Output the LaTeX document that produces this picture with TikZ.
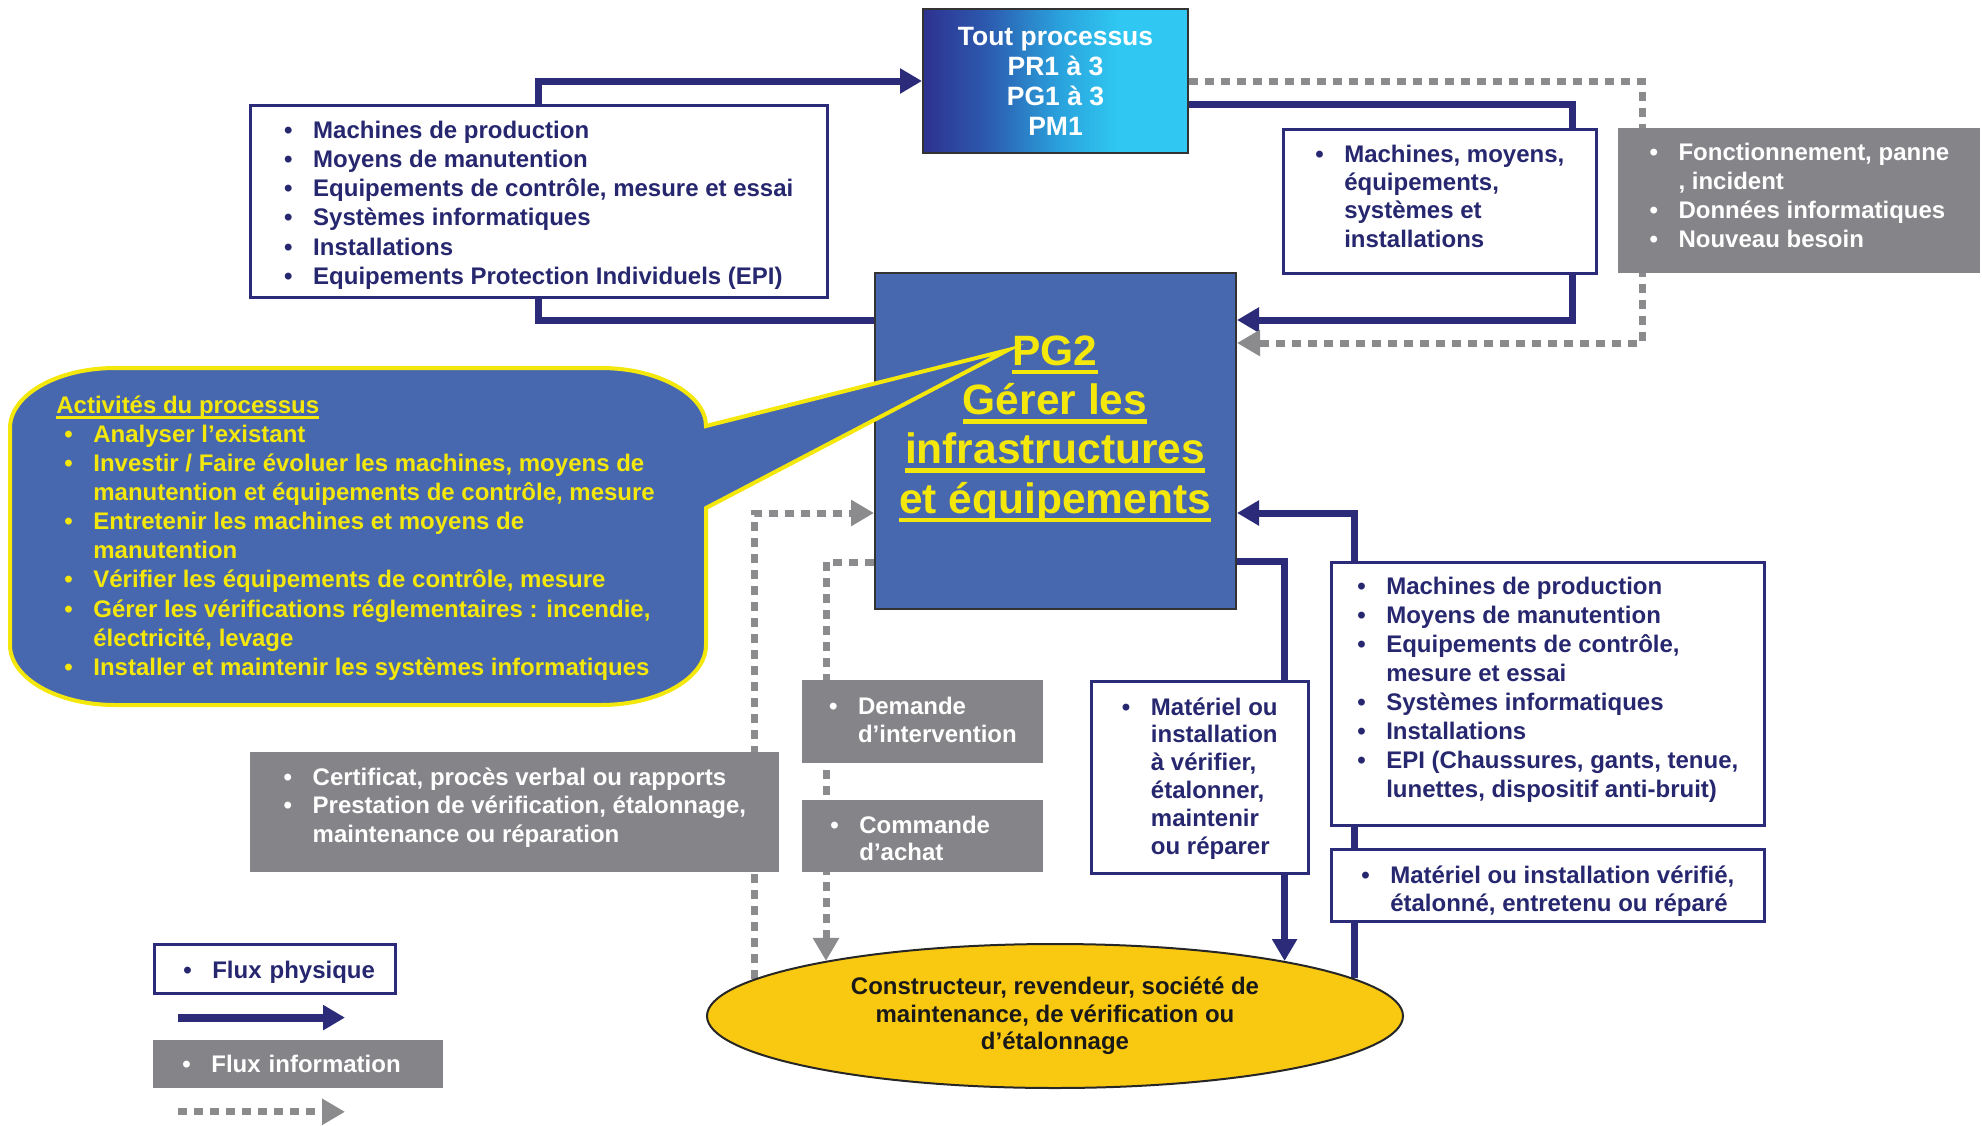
\documentclass[tikz,border=0pt]{standalone}
\usepackage{fontspec}
\setmainfont{Liberation Sans}
\usetikzlibrary{arrows.meta,calc,shapes.geometric}
\pgfdeclarelayer{bg}
\pgfsetlayers{bg,main}

\definecolor{navy}{HTML}{2B2B7A}
\definecolor{ink}{HTML}{26276F}
\definecolor{boxgray}{HTML}{858589}
\definecolor{dotgray}{HTML}{8B8B8E}
\definecolor{pgblue}{HTML}{4767AE}
\definecolor{cyel}{HTML}{F4E70C}
\definecolor{ellyel}{HTML}{F9C912}
\definecolor{tA}{HTML}{2E3190}
\definecolor{tB}{HTML}{2C5AAE}
\definecolor{tC}{HTML}{2AA3DD}
\definecolor{tD}{HTML}{30C8F2}

\pgfdeclarehorizontalshading{toutshade}{100bp}{color(0bp)=(tA); color(25bp)=(tA); color(37bp)=(tB); color(51bp)=(tC); color(62bp)=(tD); color(100bp)=(tD)}

\newcommand\boxfont[1]{\fontsize{12pt}{#1}\selectfont\bfseries}
\newcommand\bulx{\makebox[14.5pt][l]{\textbullet}}
\newcommand\indx{\hspace*{14.5pt}}
% invisible struts fixing the height of the first line and the depth of the last one
\newcommand\topst[1]{\rule{0pt}{#1}}
\newcommand\botst[1]{\rule[-#1]{0pt}{#1}}
\newcommand\ulbar[3]{\setbox0\hbox{#3}\rlap{\rule[-#1]{\wd0}{#2}}\box0}
% point where a vertical through #1 meets the upper border of the ellipse
\newcommand\ellhit[2]{\path let \p1=(#1), \p2=(ell.center), \p3=(ell.east), \p4=(ell.north) in
  coordinate (#2) at (\x1,{\y2+(\y4-\y2)*sqrt(1-((\x1-\x2)/(\x3-\x2))^2)});}

\begin{document}
\begin{tikzpicture}[x=0.5pt, y=-0.5pt,
  phys/.style={draw=navy, line width=3.5pt},
  info/.style={draw=dotgray, line width=3.5pt, dash pattern=on 4.5pt off 3.5pt},
  ptip/.style={-{Triangle[length=11pt,width=12pt]}},
  itip/.style={-{Triangle[length=11.5pt,width=12.5pt]}},
  wbox/.style={draw=navy, line width=1.3pt, fill=white, text=ink, align=left, inner sep=0pt, anchor=north west, font=\boxfont{14.6pt}},
  gbox/.style={fill=boxgray, text=white, align=left, inner sep=0pt, anchor=north west, font=\boxfont{14.6pt}},
]
\useasboundingbox (0,0) rectangle (1982,1125);

% ---- boxes ----
\node[wbox, font=\boxfont{14.65pt}, minimum width=288.5pt, minimum height=96pt] (tl) at (249,104) {%
\topst{14pt}\bulx Machines de production\\
\bulx Moyens de manutention\\
\bulx Equipements de contrôle, mesure et essai\\
\bulx Systèmes informatiques\\
\bulx Installations\\
\bulx Equipements Protection Individuels (EPI)\botst{4pt}};

\node[draw=black!80, line width=1pt, shade, shading=toutshade, minimum width=132.5pt, minimum height=72pt,
  anchor=north west, inner sep=0pt, text=white, align=center,
  font=\fontsize{13.25pt}{15pt}\selectfont\bfseries] (tout) at (922,8) {Tout processus\\PR1 à 3\\PG1 à 3\\PM1};

\node[wbox, font=\boxfont{14.15pt}, minimum width=156.5pt, minimum height=72pt] (mm) at (1282,128) {%
\topst{9.5pt}\bulx Machines, moyens,\\
\indx équipements,\\
\indx systèmes et\\
\indx installations\botst{6pt}};

\node[gbox, font=\boxfont{14.5pt}, minimum width=181pt, minimum height=72.5pt] (gr) at (1618,128) {%
\topst{10pt}\bulx Fonctionnement, panne\\
\indx , incident\\
\bulx Données informatiques\\
\bulx Nouveau besoin\botst{7pt}};

\node[draw=black!80, line width=1pt, fill=pgblue, minimum width=180.5pt, minimum height=168pt,
  anchor=north west, inner sep=0pt] (pg2) at (874,272) {};

\node[gbox, font=\boxfont{14.25pt}, minimum width=264.5pt, minimum height=60pt] (cert) at (250,752) {%
\topst{9.25pt}\bulx Certificat, procès verbal ou rapports\\
\bulx Prestation de vérification, étalonnage,\\
\indx maintenance ou réparation\botst{8pt}};

\node[gbox, font=\boxfont{14pt}, minimum width=120.5pt, minimum height=41.5pt] (dem) at (802,680) {%
\topst{10.25pt}\bulx Demande\\
\indx d’intervention\botst{4pt}};

\node[gbox, font=\boxfont{13.6pt}, minimum width=120.5pt, minimum height=36pt, text width=92.5pt, inner xsep=14pt] (com) at (802,800) {%
\topst{14.25pt}\bulx Commande\\
\indx d’achat\botst{4pt}};

\node[wbox, font=\boxfont{13.9pt}, minimum width=108.5pt, minimum height=96pt] (mat) at (1090,680) {%
\topst{11.25pt}\bulx Matériel ou\\
\indx installation\\
\indx à vérifier,\\
\indx étalonner,\\
\indx maintenir\\
\indx ou réparer\botst{4pt}};

\node[wbox, font=\boxfont{14.45pt}, minimum width=216.5pt, minimum height=131.5pt] (br) at (1330,561) {%
\topst{9.25pt}\bulx Machines de production\\
\bulx Moyens de manutention\\
\bulx Equipements de contrôle,\\
\indx mesure et essai\\
\bulx Systèmes informatiques\\
\bulx Installations\\
\bulx EPI (Chaussures, gants, tenue,\\
\indx lunettes, dispositif anti-bruit)\botst{7pt}};

\node[wbox, font=\boxfont{13.6pt}, minimum width=216.5pt, minimum height=36pt] (sr) at (1330,848) {%
\topst{16.25pt}\bulx Matériel ou installation vérifié,\\
\indx étalonné, entretenu ou réparé\botst{4pt}};

% ---- legend ----
\node[wbox, minimum width=120.5pt, minimum height=24.5pt, text width=91.5pt, inner xsep=14.5pt] (fp) at (153,943) {\mbox{\topst{13.75pt}\bulx Flux physique\botst{4pt}}};
\node[gbox, minimum width=145pt, minimum height=24pt, text width=116pt, inner xsep=14.5pt] (fi) at (153,1040) {\mbox{\topst{12pt}\bulx Flux information\botst{4pt}}};

% ---- external partner ----
\node[ellipse, draw=black!85, line width=1pt, fill=ellyel, minimum width=348pt, minimum height=72pt,
  inner sep=0pt, align=center, text=black!90, font=\fontsize{12pt}{13.75pt}\selectfont\bfseries] (ell) at (1055,1016)
  {Constructeur, revendeur, société de\\maintenance, de vérification ou\\d’étalonnage};

% ---- activity callout ----
\coordinate (tip) at (1008,350);
\path[draw=cyel, line width=2pt, fill=pgblue, line join=miter]
  (115,368) -- (601,368) .. controls (659,368) and (706,395) .. (706,426)
  -- (tip) -- (706,508) -- (706,645)
  .. controls (706,678) and (659,705) .. (601,705) -- (115,705)
  .. controls (57,705) and (10,678) .. (10,645) -- (10,428)
  .. controls (10,395) and (57,368) .. (115,368) -- cycle;

\node[anchor=west, inner sep=0pt, align=left, text=cyel, font=\fontsize{12pt}{14.55pt}\selectfont\bfseries] (act) at (56,538) {%
\ulbar{2.6pt}{1.1pt}{Activités du processus}\\
\hspace*{4pt}\bulx Analyser l’existant\\
\hspace*{4pt}\bulx Investir / Faire évoluer les machines, moyens de\\
\hspace*{18.5pt}manutention et équipements de contrôle, mesure\\
\hspace*{4pt}\bulx Entretenir les machines et moyens de\\
\hspace*{18.5pt}manutention\\
\hspace*{4pt}\bulx Vérifier les équipements de contrôle, mesure\\
\hspace*{4pt}\bulx Gérer les vérifications réglementaires : incendie,\\
\hspace*{18.5pt}électricité, levage\\
\hspace*{4pt}\bulx Installer et maintenir les systèmes informatiques};

\node[align=center, text=cyel, inner sep=0pt, font=\fontsize{21.25pt}{24.65pt}\selectfont\bfseries] (pgt) at (1055,429) {%
\ulbar{4.6pt}{2.3pt}{PG2}\\
\ulbar{4.6pt}{2.3pt}{Gérer les}\\
\ulbar{4.6pt}{2.3pt}{infrastructures}\\
\ulbar{4.6pt}{2.3pt}{et équipements}};

% ---- connector anchors ----
\coordinate (xa) at ($(cert.north east)+(-25,0)$);
\coordinate (xb) at ($(dem.north west)+(24,0)$);
\coordinate (xc) at ($(mat.north east)+(-25,0)$);
\coordinate (xd) at ($(br.north west)+(24,0)$);
\ellhit{xa}{ea}
\ellhit{xb}{eb}
\ellhit{xc}{ec}
\ellhit{xd}{ed}
\coordinate (l1a) at ($(fp.south west)+(25,23)$);
\coordinate (l1b) at ($(fp.south west)+(192,23)$);
\coordinate (l2a) at ($(fi.south west)+(25,23)$);
\coordinate (l2b) at ($(fi.south west)+(192,23)$);

% ---- flows ----
\begin{pgfonlayer}{bg}
\draw[phys, ptip] ($(pg2.north west)+(0,48)$) -| (tl.center) |- (tout.west);
\draw[phys, ptip] ($(tout.north east)+(0,96)$) -| ($(mm.east)+(-25,0)$) |- ($(pg2.north east)+(0,48)$);
\draw[info, itip] (tout.east) -| ($(gr.west)+(24,0)$) |- ($(pg2.north east)+(0,71)$);
\draw[info, itip] (ea) |- ($(pg2.west)+(0,72)$);
\draw[info, itip] ($(pg2.south west)+(0,-48)$) -| (eb);
\draw[phys, ptip] ($(pg2.south east)+(0,-49)$) -| (ec);
\draw[phys, ptip] (ed) |- ($(pg2.east)+(0,72)$);
\draw[phys, line width=4pt, ptip] (l1a) -- (l1b);
\draw[info, itip] (l2a) -- (l2b);
\end{pgfonlayer}
\end{tikzpicture}
\end{document}
